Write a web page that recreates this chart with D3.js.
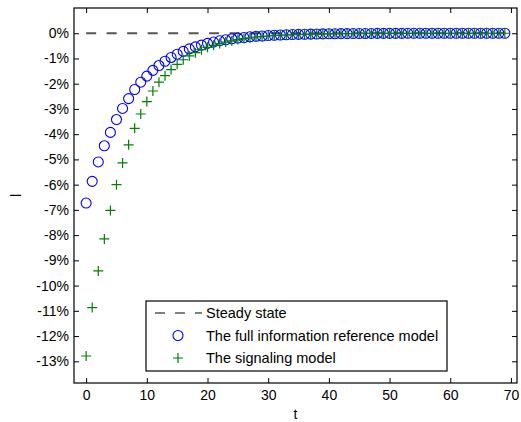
<!DOCTYPE html>
<html>
<head>
<meta charset="utf-8">
<script src="https://cdn.jsdelivr.net/npm/d3@7"></script>
<style>
  body { margin: 0; background: #fff; }
  svg { display: block; font-family: Arial, "Liberation Sans", sans-serif; }
</style>
</head>
<body>
<div id="grafico"></div>
<script>
// valores em %
const periodos = d3.range(0, 70);

const modeloInfoCompleta = [
  -6.73, -5.87, -5.10, -4.46, -3.93, -3.42, -2.98, -2.59, -2.23, -1.94,
  -1.70, -1.47, -1.28, -1.11, -0.96, -0.83, -0.72, -0.62, -0.54, -0.47,
  -0.40, -0.35, -0.30, -0.26, -0.22, -0.19, -0.17, -0.14, -0.12, -0.11,
  -0.09, -0.08, -0.07, -0.06, -0.05, -0.045, -0.04, -0.035, -0.03, -0.026,
  -0.022, -0.019, -0.016, -0.014, -0.012, -0.010, -0.009, -0.008, -0.007, -0.006,
  -0.005, -0.004, -0.004, -0.003, -0.003, -0.002, -0.002, -0.002, -0.001, -0.001,
  -0.001, -0.001, -0.001, 0, 0, 0, 0, 0, 0, 0
];

const modeloSinalizacao = [
  -12.79, -10.87, -9.42, -8.15, -7.02, -6.00, -5.14, -4.42, -3.77, -3.20,
  -2.71, -2.29, -1.94, -1.68, -1.44, -1.23, -1.05, -0.90, -0.77, -0.65,
  -0.56, -0.48, -0.41, -0.35, -0.30, -0.25, -0.21, -0.18, -0.15, -0.13,
  -0.11, -0.09, -0.08, -0.07, -0.06, -0.05, -0.043, -0.037, -0.032, -0.027,
  -0.023, -0.020, -0.017, -0.014, -0.012, -0.010, -0.009, -0.008, -0.007, -0.006,
  -0.005, -0.004, -0.004, -0.003, -0.003, -0.002, -0.002, -0.002, -0.001, -0.001,
  -0.001, -0.001, -0.001, 0, 0, 0, 0, 0, 0, 0
];

const ticksX = [0, 10, 20, 30, 40, 50, 60, 70];
const ticksY = d3.range(0, -14, -1);
const rotulosLegenda = ["Steady state", "The full information reference model", "The signaling model"];

const largura = 521, altura = 422;
const margem = { top: 8, right: 4, bottom: 39, left: 74 };

const svg = d3.select("#grafico").append("svg")
  .attr("width", largura)
  .attr("height", altura);

const x = d3.scaleLinear().domain([-2, 71]).range([margem.left, largura - margem.right]);
const y = d3.scaleLinear().domain([-13.86, 1]).range([altura - margem.bottom, margem.top]);

const fmtY = d => (d < 0 ? "-" : "") + Math.abs(d) + "%";
const tamTick = 5;

// eixos (caixa com ticks para dentro)
svg.append("g")
  .attr("transform", `translate(0,${y.range()[0]})`)
  .call(d3.axisBottom(x).tickValues(ticksX).tickSizeInner(-tamTick).tickSizeOuter(0).tickPadding(7))
  .call(g => g.select(".domain").remove());
svg.append("g")
  .attr("transform", `translate(0,${y.range()[1]})`)
  .call(d3.axisTop(x).tickValues(ticksX).tickSizeInner(-tamTick).tickSizeOuter(0).tickFormat(""))
  .call(g => g.select(".domain").remove());
svg.append("g")
  .attr("transform", `translate(${x.range()[0]},0)`)
  .call(d3.axisLeft(y).tickValues(ticksY).tickSizeInner(-tamTick).tickSizeOuter(0).tickPadding(5).tickFormat(fmtY))
  .call(g => g.select(".domain").remove());
svg.append("g")
  .attr("transform", `translate(${x.range()[1]},0)`)
  .call(d3.axisRight(y).tickValues(ticksY).tickSizeInner(-tamTick).tickSizeOuter(0).tickFormat(""))
  .call(g => g.select(".domain").remove());

svg.selectAll(".tick text").style("font-size", "14px").style("fill", "#000");
svg.selectAll(".tick line").style("stroke", "#000");

svg.append("rect")
  .attr("x", x.range()[0])
  .attr("y", y.range()[1])
  .attr("width", x.range()[1] - x.range()[0])
  .attr("height", y.range()[0] - y.range()[1])
  .style("fill", "none")
  .style("stroke", "#000")
  .style("stroke-width", "1.2px");

// estado estacionário
svg.append("line")
  .attr("x1", x(0)).attr("x2", x(69))
  .attr("y1", y(0)).attr("y2", y(0))
  .style("stroke", "#555")
  .style("stroke-width", "1.8px")
  .style("stroke-dasharray", "10,10.5");

// círculos
svg.append("g").selectAll("circle")
  .data(periodos)
  .enter().append("circle")
  .attr("cx", d => x(d))
  .attr("cy", (d, i) => y(modeloInfoCompleta[i]))
  .attr("r", 5)
  .style("fill", "none")
  .style("stroke", "#0000ff")
  .style("stroke-width", "1.1px");

// cruzes
const tamCruz = 5;
const caminhoCruz = (cx, cy) => `M${cx - tamCruz},${cy}H${cx + tamCruz}M${cx},${cy - tamCruz}V${cy + tamCruz}`;
svg.append("g").selectAll("path")
  .data(periodos)
  .enter().append("path")
  .attr("d", d => caminhoCruz(x(d), y(modeloSinalizacao[d])))
  .style("fill", "none")
  .style("stroke", "#008000")
  .style("stroke-width", "1.2px");

// rótulos dos eixos
svg.append("text")
  .attr("x", (x.range()[0] + x.range()[1]) / 2)
  .attr("y", 419)
  .attr("text-anchor", "middle")
  .style("font-size", "14px")
  .text("t");

svg.append("text")
  .attr("transform", `translate(21,${(y.range()[0] + y.range()[1]) / 2}) rotate(-90)`)
  .attr("text-anchor", "middle")
  .style("font-size", "14px")
  .text("l");

// legenda
const legenda = svg.append("g").attr("transform", "translate(146,301)");
legenda.append("rect")
  .attr("width", 301)
  .attr("height", 70)
  .style("fill", "#fff")
  .style("stroke", "#000")
  .style("stroke-width", "1.2px");

const linhaY = i => 12 + i * 22.5;

legenda.append("line")
  .attr("x1", 9).attr("x2", 56)
  .attr("y1", linhaY(0)).attr("y2", linhaY(0))
  .style("stroke", "#000")
  .style("stroke-width", "1px")
  .style("stroke-dasharray", "10,10");

legenda.append("circle")
  .attr("cx", 32).attr("cy", linhaY(1)).attr("r", 5)
  .style("fill", "none").style("stroke", "#0000ff").style("stroke-width", "1.1px");

legenda.append("path")
  .attr("d", caminhoCruz(32, linhaY(2)))
  .style("stroke", "#008000").style("stroke-width", "1.2px");

legenda.selectAll(".leg-texto")
  .data(rotulosLegenda)
  .enter().append("text")
  .attr("class", "leg-texto")
  .attr("x", 60)
  .attr("y", (d, i) => linhaY(i))
  .attr("dy", "0.35em")
  .style("font-size", "14.5px")
  .text(d => d);
</script>
</body>
</html>
